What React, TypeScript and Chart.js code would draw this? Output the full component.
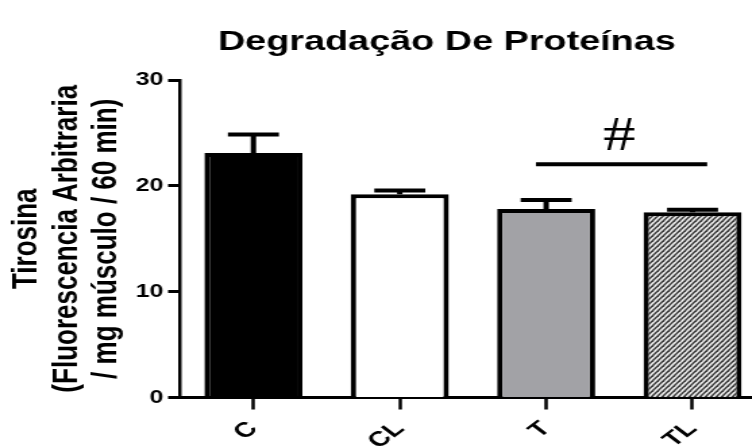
import { useEffect, useRef } from 'react';
import { Chart, registerables } from 'chart.js';

Chart.register(...registerables);

// ---- data ----
const categories = ['C', 'CL', 'T', 'TL'];
const means = [23.1, 19.2, 17.8, 17.5];
const sems = [1.75, 0.35, 0.85, 0.25];
const yTicks = [0, 10, 20, 30];
const yTitleLines = ['Tirosina', '(Fluorescencia Arbitraria', '/ mg músculo / 60 min)'];
const chartTitle = 'Degradação De Proteínas';
const sigGroups = ['T', 'TL'];
const sigLineValue = 22.05;
const sigMark = '#';
const sigMarkValue = 23.4;

// ---- layout / style ----
const SX = 1.35;
const W = 662;
const H = 446;
const FONT = "'Liberation Sans', Arial, sans-serif";

function makeHatch(): CanvasPattern | string {
  const c = document.createElement('canvas');
  const w = 4;
  const h = 5;
  c.width = w;
  c.height = h;
  const g = c.getContext('2d');
  if (!g) return '#888';
  g.fillStyle = '#ededed';
  g.fillRect(0, 0, w, h);
  g.strokeStyle = '#3c3c3c';
  g.lineWidth = 1.5;
  for (let k = -1; k <= 1; k++) {
    g.beginPath();
    g.moveTo(-w + k * w, 2 * h);
    g.lineTo(2 * w + k * w, -h);
    g.stroke();
  }
  return g.createPattern(c, 'repeat') || '#888';
}

const annotPlugin = {
  id: 'annot',
  afterDatasetsDraw(chart: any) {
    const { ctx, scales } = chart;
    const x = scales.x;
    const y = scales.y;
    const meta = chart.getDatasetMeta(0);
    ctx.save();
    ctx.strokeStyle = '#000';
    ctx.lineWidth = 4;
    ctx.lineCap = 'butt';
    meta.data.forEach((el: any, i: number) => {
      const p = el.getProps(['x', 'y', 'width'], true);
      const yt = y.getPixelForValue(means[i] + sems[i]);
      const half = p.width * 0.26;
      ctx.beginPath();
      ctx.moveTo(p.x, p.y);
      ctx.lineTo(p.x, yt);
      ctx.moveTo(p.x - half, yt);
      ctx.lineTo(p.x + half, yt);
      ctx.stroke();
    });
    const i0 = categories.indexOf(sigGroups[0]);
    const i1 = categories.indexOf(sigGroups[1]);
    const step = x.getPixelForValue(1) - x.getPixelForValue(0);
    const x0 = x.getPixelForValue(i0) - 0.07 * step;
    const x1 = x.getPixelForValue(i1) + 0.1 * step;
    const ly = y.getPixelForValue(sigLineValue);
    ctx.beginPath();
    ctx.moveTo(x0, ly);
    ctx.lineTo(x1, ly);
    ctx.stroke();
    ctx.font = "48px 'Liberation Serif', 'Times New Roman', serif";
    ctx.fillStyle = '#000';
    ctx.textAlign = 'center';
    ctx.textBaseline = 'alphabetic';
    ctx.fillText(
      sigMark,
      (x.getPixelForValue(i0) + x.getPixelForValue(i1)) / 2,
      y.getPixelForValue(sigMarkValue)
    );
    ctx.restore();
  },
};

export default function App() {
  const ref = useRef<HTMLCanvasElement | null>(null);

  useEffect(() => {
    const canvas = ref.current;
    if (!canvas) return;
    const chart = new Chart(canvas, {
      type: 'bar',
      data: {
        labels: categories,
        datasets: [
          {
            data: means,
            backgroundColor: ['#000000', '#ffffff', '#a2a2a6', makeHatch()] as any,
            borderColor: '#000',
            borderWidth: 4,
            barPercentage: 0.67,
            categoryPercentage: 1,
          },
        ],
      },
      options: {
        responsive: false,
        animation: false,
        devicePixelRatio: 1,
        layout: { padding: 0 },
        plugins: {
          legend: { display: false },
          tooltip: { enabled: false },
          title: {
            display: true,
            text: chartTitle,
            color: '#000',
            font: { family: FONT, size: 28, weight: 'bold', lineHeight: 1.2 },
            padding: { top: 25.2, bottom: 21.2 },
          },
        },
        scales: {
          x: {
            grid: {
              display: true,
              drawOnChartArea: false,
              drawTicks: true,
              offset: false,
              tickLength: 12,
              tickWidth: 2.5,
              tickColor: '#000',
            },
            border: { display: true, color: '#000', width: 3 },
            ticks: {
              color: '#000',
              font: { family: FONT, size: 21, weight: 'bold' },
              minRotation: 45,
              maxRotation: 45,
              autoSkip: false,
              padding: 7,
            },
            afterFit: (s: any) => {
              s.height = 48.5;
            },
          },
          y: {
            min: 0,
            max: 30,
            afterBuildTicks: (s: any) => {
              s.ticks = yTicks.map((v) => ({ value: v }));
            },
            ticks: {
              color: '#000',
              font: { family: FONT, size: 18.5, weight: 'bold' },
              padding: 3.5,
            },
            grid: {
              drawOnChartArea: false,
              drawTicks: true,
              tickLength: 9,
              tickWidth: 3,
              tickColor: '#000',
            },
            border: { display: true, color: '#000', width: 2.5 },
            title: {
              display: true,
              text: yTitleLines,
              color: '#000',
              font: { family: FONT, size: 26, weight: 'bold', lineHeight: 1.138 },
              padding: { top: 5.2, bottom: 0 },
            },
            afterFit: (s: any) => {
              s.width = 133.5;
            },
          },
          pad: {
            type: 'linear',
            position: 'right',
            display: true,
            grid: { display: false },
            border: { display: false },
            ticks: { display: false },
            afterFit: (s: any) => {
              s.width = W - 567.2;
            },
          },
        },
      } as any,
      plugins: [annotPlugin],
    });
    return () => chart.destroy();
  }, []);

  return (
    <div
      style={{
        position: 'absolute',
        left: 0,
        top: 0,
        width: 752,
        height: 446,
        overflow: 'hidden',
        background: '#fff',
      }}
    >
      <div
        style={{
          width: W,
          height: H,
          transform: `scaleX(${SX})`,
          transformOrigin: '0 0',
        }}
      >
        <canvas ref={ref} width={W} height={H} style={{ display: 'block' }} />
      </div>
    </div>
  );
}
